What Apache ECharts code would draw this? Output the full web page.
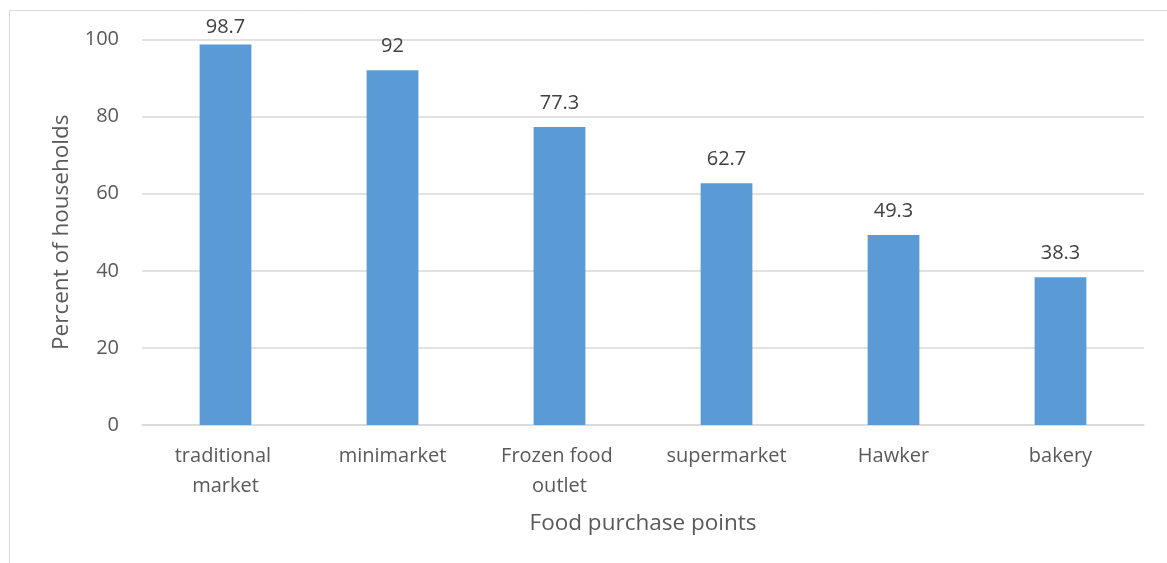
<!DOCTYPE html>
<html><head><meta charset="utf-8">
<script src="https://cdn.jsdelivr.net/npm/echarts@6/dist/echarts.min.js"></script>
<style>html,body{margin:0;padding:0;background:#fff}#c{width:1167px;height:563px}</style>
</head><body><div id="c"></div>
<script>
const categories = ["traditional market", "minimarket", "Frozen food outlet", "supermarket", "Hawker", "bakery"];
const values = [98.7, 92, 77.3, 62.7, 49.3, 38.3];
const yTicks = [0, 20, 40, 60, 80, 100];

const chart = echarts.init(document.getElementById('c'));
const font = 'Open Sans';
chart.setOption({
  animation: false,
  backgroundColor: '#fff',
  graphic: [{
    type: 'rect', shape: {x: 9.5, y: 10.5, width: 1200, height: 600},
    style: {fill: 'none', stroke: '#d9d9d9', lineWidth: 1}, silent: true
  }],
  grid: {left: 142, right: 23, top: 39.5, bottom: 138, containLabel: false},
  xAxis: {
    type: 'category', data: categories,
    name: 'Food purchase points', nameLocation: 'middle', nameGap: 87,
    nameTextStyle: {fontFamily: font, fontSize: 22.5, color: '#595959'},
    axisLine: {lineStyle: {color: '#d9d9d9', width: 1.5}},
    axisTick: {show: false},
    axisLabel: {fontFamily: font, fontSize: 20, color: '#595959', margin: 16, width: 140, overflow: 'break', lineHeight: 30, interval: 0}
  },
  yAxis: {
    type: 'value', min: yTicks[0], max: yTicks[yTicks.length - 1], interval: 20,
    name: 'Percent of households', nameLocation: 'middle', nameGap: 69,
    nameTextStyle: {fontFamily: font, fontSize: 22.5, color: '#595959'},
    axisLine: {show: false}, axisTick: {show: false},
    axisLabel: {fontFamily: font, fontSize: 20, color: '#595959', margin: 23},
    splitLine: {lineStyle: {color: '#d9d9d9', width: 1.5}}
  },
  series: [{
    type: 'bar', data: values, barWidth: '31%',
    itemStyle: {color: '#5b9bd5'},
    label: {show: true, position: 'top', distance: 14, fontFamily: font, fontSize: 20, color: '#404040'},
    labelLayout: function (p) {
      const d = 17 - p.labelRect.y;
      return d > 0 ? {dy: d} : {};
    }
  }]
});
</script></body></html>
